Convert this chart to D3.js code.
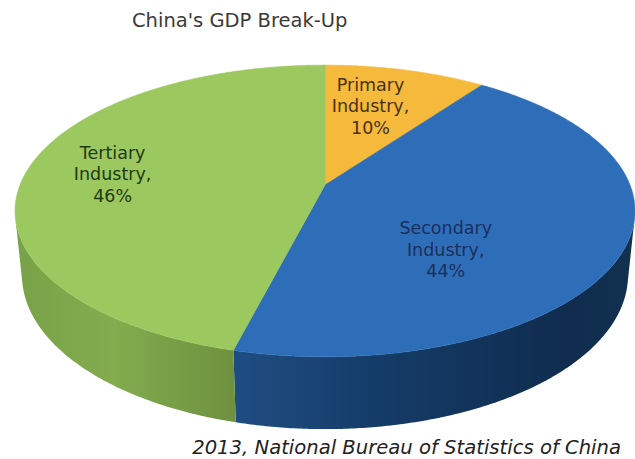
<!DOCTYPE html>
<html>
<head>
<meta charset="utf-8">
<script src="https://cdn.jsdelivr.net/npm/d3@7"></script>
<style>
  html, body { margin: 0; padding: 0; background: #fff; }
  svg { display: block; }
  text { font-family: "DejaVu Sans", Verdana, sans-serif; }
</style>
</head>
<body>
<svg id="chart" width="635" height="459"></svg>
<script>
// GDP composition, 2013
const categories = ["Primary Industry", "Secondary Industry", "Tertiary Industry"];
const shares = [10, 44, 46];
const title = "China's GDP Break-Up";
const source = "2013, National Bureau of Statistics of China";

// colours: top face and wall shading per slice
const topColors = ["#f5ba3c", "#2e6eb9", "#9cc860"];
const wallStops = [
  [["0", "#c08a20"], ["1", "#a87618"]],
  [["0", "#1f4d82"], ["0.4", "#143a65"], ["0.85", "#0f2c4e"], ["1", "#12314f"]],
  [["0", "#78a247"], ["0.45", "#82ac4e"], ["1", "#6e903f"]]
];
const labelColors = ["#4a3012", "#1b2f5c", "#1f3a12"];
// label anchors in disc space: angle shift from slice middle (deg), radius fraction
const labelShift = [-3, 24, -1];
const labelRadius = [0.64, 0.56, 0.71];

// perspective view of a disc of radius 1 and thickness H
const CX = 325, CY = 185;
const TILT = Math.asin(0.463);
const S = Math.sin(TILT), C = Math.cos(TILT);
const DIST = 4.98, FOCAL = 1519, H = 0.24;

function project(a, r, y) {
  const x = r * Math.sin(a), z = -r * Math.cos(a);
  const Y = z * S - y * C;
  const Z = DIST - z * C - y * S;
  return [CX + FOCAL * x / Z, CY + FOCAL * Y / Z];
}

const svg = d3.select("#chart");
const defs = svg.append("defs");

const pie = d3.pie().sort(null).value(d => d.value);
const arcs = pie(categories.map((c, i) => ({ name: c, value: shares[i], i })));

const line = d3.line();
const step = Math.PI / 360;
function sampleAngles(a0, a1) {
  const n = Math.max(2, Math.ceil((a1 - a0) / step));
  return d3.range(n + 1).map(k => a0 + (a1 - a0) * k / n);
}

// walls facing the viewer: cos(a) < -1/(DIST*C)
const visLo = Math.acos(-1 / (DIST * C));
const visHi = 2 * Math.PI - visLo;

const walls = svg.append("g");
arcs.forEach(d => {
  const a0 = Math.max(d.startAngle, visLo), a1 = Math.min(d.endAngle, visHi);
  if (a1 <= a0) return;
  const angs = sampleAngles(a0, a1);
  const topEdge = angs.map(a => project(a, 1, 0));
  const botEdge = angs.slice().reverse().map(a => project(a, 1, -H));
  const pts = topEdge.concat(botEdge);
  const xs = d3.extent(pts, p => p[0]);
  const gid = "wall" + d.data.i;
  const g = defs.append("linearGradient").attr("id", gid)
    .attr("gradientUnits", "userSpaceOnUse")
    .attr("x1", xs[0]).attr("x2", xs[1]).attr("y1", 0).attr("y2", 0);
  wallStops[d.data.i].forEach(s => g.append("stop").attr("offset", s[0]).attr("stop-color", s[1]));
  walls.append("path")
    .attr("d", line(pts) + "Z")
    .attr("fill", `url(#${gid})`);
});

const tops = svg.append("g");
arcs.forEach(d => {
  const angs = sampleAngles(d.startAngle, d.endAngle);
  const pts = [project(0, 0, 0)].concat(angs.map(a => project(a, 1, 0)));
  tops.append("path")
    .attr("d", line(pts) + "Z")
    .attr("fill", topColors[d.data.i])
    .attr("stroke", topColors[d.data.i])
    .attr("stroke-width", 0.6);
});

// slice labels: name split over two lines, then the share
const labels = svg.append("g").attr("font-size", 17.5).attr("text-anchor", "middle");
arcs.forEach(d => {
  const i = d.data.i;
  const mid = (d.startAngle + d.endAngle) / 2 + labelShift[i] * Math.PI / 180;
  const p = project(mid, labelRadius[i], 0);
  const words = d.data.name.split(" ");
  const lines = [words[0], words.slice(1).join(" ") + ",", d.data.value + "%"];
  const t = labels.append("text").attr("fill", labelColors[i]);
  lines.forEach((s, k) => {
    t.append("tspan").attr("x", p[0]).attr("y", p[1] + 6 + (k - 1) * 21.5).text(s);
  });
});

svg.append("text")
  .attr("x", 132).attr("y", 27)
  .attr("font-size", 19.5).attr("fill", "#3a3a3a")
  .text(title);

svg.append("text")
  .attr("x", 621).attr("y", 454)
  .attr("text-anchor", "end")
  .attr("font-size", 19.6).attr("font-style", "italic").attr("fill", "#222")
  .text(source);
</script>
</body>
</html>
